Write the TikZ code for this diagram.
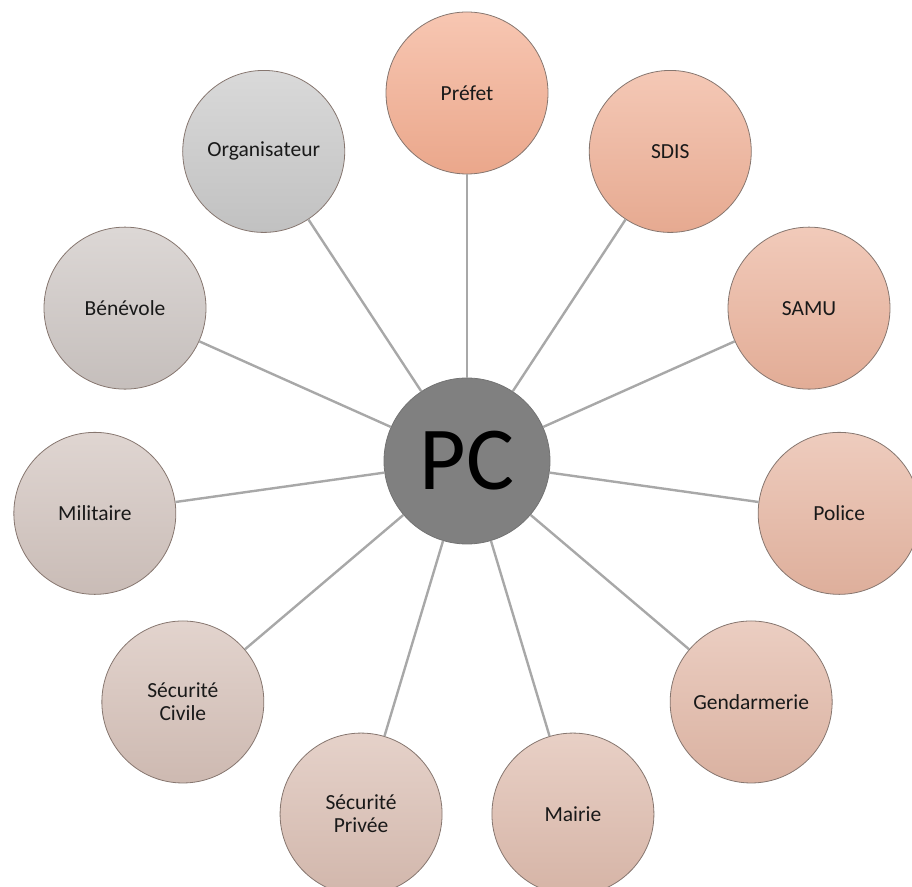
\documentclass[tikz,border=0pt]{standalone}
\usepackage{fontspec}
\setmainfont{Carlito}
\usepackage{xcolor}
\usepackage{tikz}

\definecolor{prefetcol}{HTML}{F4AE91}
\definecolor{orgcol}{HTML}{C9C9C9}
\definecolor{linkcol}{HTML}{A8A8A8}
\definecolor{rimcol}{HTML}{86766F}
\definecolor{pccol}{HTML}{808080}

\tikzset{
  member/.style={circle,draw=rimcol,line width=0.8pt,minimum size=162pt,inner sep=0pt,
    align=center,font=\fontsize{21.5}{23}\selectfont,text=black!90},
  hub/.style={circle,draw=black!55,line width=0.8pt,fill=pccol,minimum size=166pt,
    inner sep=0pt,font=\fontsize{90}{90}\selectfont},
  link/.style={draw=linkcol,line width=2.4pt}
}

\begin{document}
\begin{tikzpicture}[x=1pt,y=1pt]
  \useasboundingbox (0,0) rectangle (912,886);
  \begin{scope}[shift={(467,425)}]
    \node[hub] (pc) at (0,0) {PC};
    \foreach \name [count=\i from 0] in {Préfet,SDIS,SAMU,Police,Gendarmerie,Mairie,
        {Sécurité\\Privée},{Sécurité\\Civile},Militaire,Bénévole,Organisateur}
    {
      \pgfmathsetmacro{\ang}{90-\i*360/11}
      \pgfmathtruncatemacro{\pct}{100-\i*10}
      \colorlet{midcol}{prefetcol!\pct!orgcol}
      \node[member,top color=midcol!70!white,bottom color=midcol!96!black] (m\i) at (\ang:376 and 368) {\name};
      \draw[link] (pc) -- (m\i);
    }
  \end{scope}
\end{tikzpicture}
\end{document}
